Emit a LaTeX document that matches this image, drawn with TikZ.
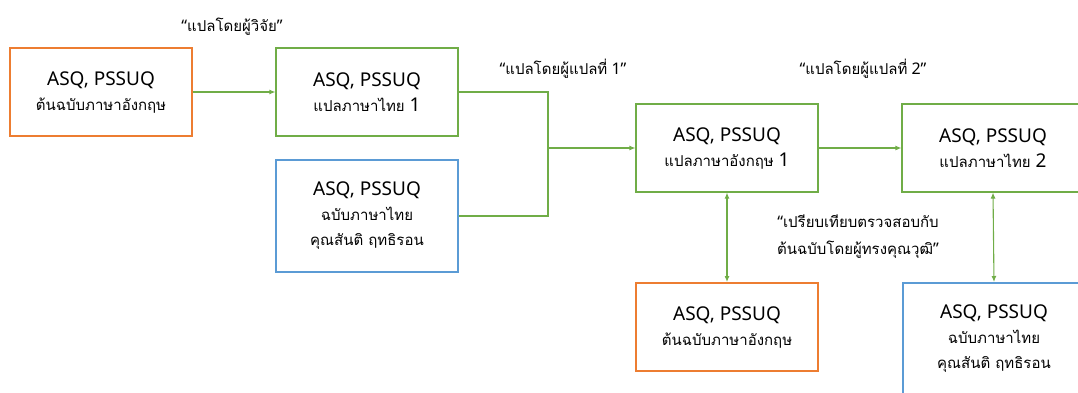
\documentclass[tikz,border=0pt]{standalone}
\usepackage{fontspec}
\setmainfont{Noto Sans}
\newfontfamily\thaifont[Script=Thai]{Loma}
\usepackage{xcolor}
\usetikzlibrary{arrows.meta,positioning}
\definecolor{srcorange}{HTML}{ED7D31}
\definecolor{refblue}{HTML}{5B9BD5}
\definecolor{stepgreen}{HTML}{70AD47}
\newcommand{\thtxt}[1]{{\thaifont\fontsize{15}{25}\selectfont #1}}

\begin{document}
\begin{tikzpicture}[
  x=1pt, y=-1pt,
  original/.style={draw=srcorange, line width=2pt, fill=white, minimum width=182pt, minimum height=88pt, align=center, font=\fontsize{19}{25}\selectfont},
  thaiversion/.style={draw=refblue, line width=2pt, fill=white, minimum width=182pt, minimum height=112pt, align=center, font=\fontsize{19}{25}\selectfont},
  translated/.style={draw=stepgreen, line width=1.1pt, fill=white, minimum width=182pt, minimum height=88pt, align=center, font=\fontsize{19}{25}\selectfont},
  link/.style={draw=stepgreen, line width=1.1pt},
  note/.style={align=center, font=\fontsize{16}{27}\selectfont},
  >={Latex[length=6pt,width=5pt]}
]
  \clip (0,0) rectangle (1078,392);

  % Sources
  \node[original] (A) at (101,92) {ASQ, PSSUQ\\\thtxt{ต้นฉบับภาษาอังกฤษ}};
  \node[thaiversion] (C) at (367,216) {ASQ, PSSUQ\\\thtxt{ฉบับภาษาไทย}\\\thtxt{คุณสันติ ฤทธิรอน}};

  % Translations
  \node[translated] (B) at (367,92) {ASQ, PSSUQ\\\thtxt{แปลภาษาไทย} 1};
  \node[translated] (D) at (727,148) {ASQ, PSSUQ\\\thtxt{แปลภาษาอังกฤษ} 1};
  \node[translated] (E) at (993,148) {ASQ, PSSUQ\\\thtxt{แปลภาษาไทย} 2};

  % Checked against
  \node[original] (F) at (727,327) {ASQ, PSSUQ\\\thtxt{ต้นฉบับภาษาอังกฤษ}};
  \node[thaiversion] (G) at (994,339) {ASQ, PSSUQ\\\thtxt{ฉบับภาษาไทย}\\\thtxt{คุณสันติ ฤทธิรอน}};

  % Notes
  \node[note] (n1) at (232,27) {“\thtxt{แปลโดยผู้วิจัย}”};
  \node[note] (n2) at (563,69) {“\thtxt{แปลโดยผู้แปลที่} 1”};
  \node[note] (n3) at (863,69) {“\thtxt{แปลโดยผู้แปลที่} 2”};
  \node[note] (n4) at (858,237) {“\thtxt{เปรียบเทียบตรวจสอบกับ}\\\thtxt{ต้นฉบับโดยผู้ทรงคุณวุฒิ}”};

  % Arrows
  \coordinate (fork) at (548,148);
  \draw[link, ->] (A) -- (B);
  \draw[link] (B.east) -| (fork) |- (C.east);
  \draw[link, ->] (fork) -- (D.west);
  \draw[link, ->] (D) -- (E);
  \draw[link, <->] (D) -- (F);
  \draw[link, <->] (E.south) -- (G.north);
\end{tikzpicture}
\end{document}
